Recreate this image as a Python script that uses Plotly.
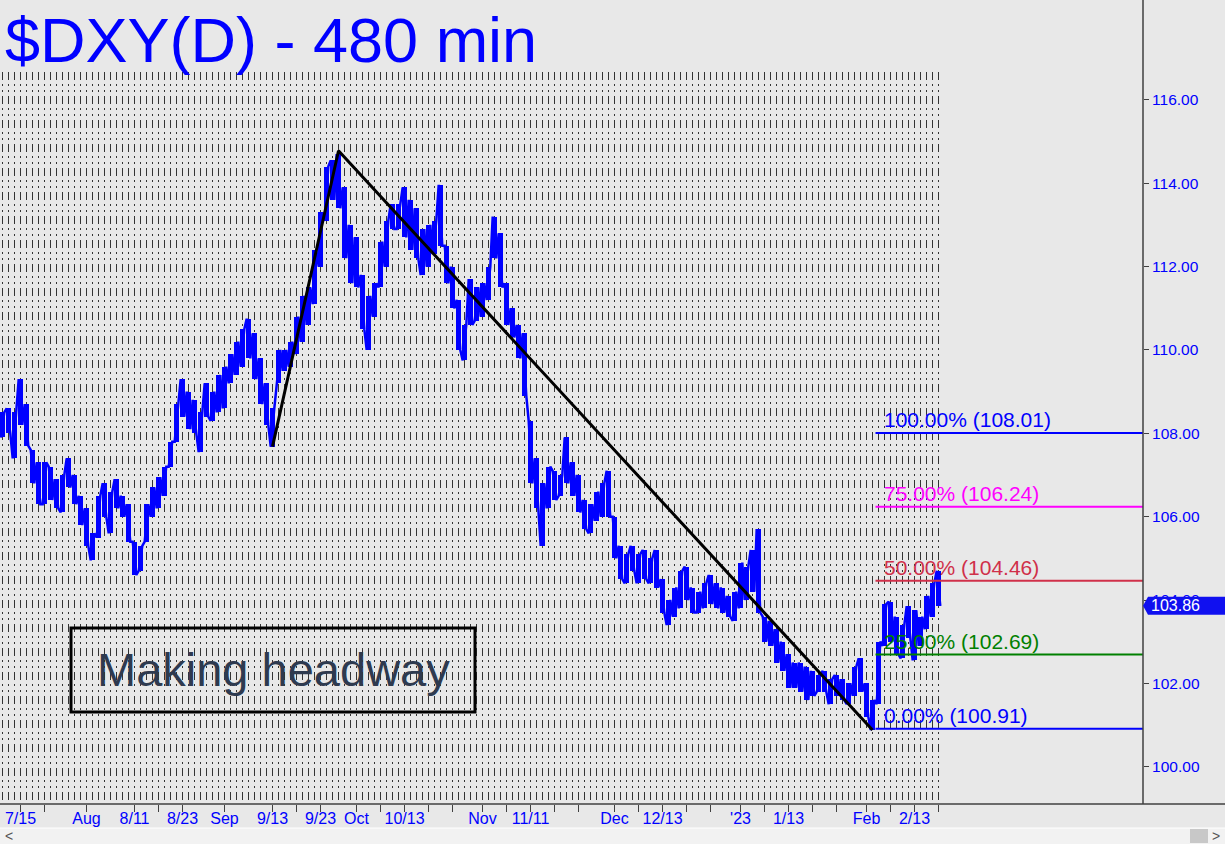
import plotly.graph_objects as go

# ---------------- data ----------------
# trading-day index (0 = 7/15/2022), holidays 12/26 and 1/2 skipped
day_index = list(range(-3, 154))
day_high = [108.5, 108.6, 108.5, 109.3, 108.7, 107.6, 107.3, 107.3, 107.2, 106.9,
            107.0, 107.4, 107.0, 106.5, 106.2, 105.6, 106.5, 106.8, 106.6, 106.9,
            106.5, 106.3, 105.4, 105.3, 106.3, 106.7, 106.95, 107.2, 107.8, 108.7,
            109.3, 109.0, 108.8, 108.5, 109.2, 109.0, 109.4, 109.6, 109.9, 110.2,
            110.5, 110.75, 110.4, 109.8, 109.2, 108.6, 110.0, 110.0, 110.2, 110.8,
            111.3, 111.5, 112.4, 113.3, 114.4, 114.55, 114.7, 113.9, 113.0, 112.7,
            111.8, 111.3, 111.6, 112.6, 113.1, 113.5, 113.5, 113.9, 113.6, 113.4,
            112.9, 113.0, 113.1, 113.96, 112.5, 112.0, 111.2, 110.6, 111.7, 111.5,
            111.6, 112.0, 113.2, 112.8, 111.6, 111.0, 110.6, 110.4, 108.3, 107.4,
            106.8, 107.2, 107.1, 107.0, 107.9, 107.3, 107.0, 106.4, 106.3, 106.6,
            106.8, 107.1, 106.0, 105.3, 105.1, 105.3, 105.1, 105.2, 105.0, 105.2,
            104.5, 104.0, 104.3, 104.7, 104.8, 104.3, 104.2, 104.4, 104.6, 104.4,
            104.3, 104.1, 104.2, 104.9, 104.8, 105.2, 105.7, 103.6, 103.5, 103.3,
            103.0, 102.7, 102.5, 102.5, 102.4, 102.3, 102.2, 102.3, 102.1, 102.2,
            102.1, 102.0, 102.4, 102.6, 102.0, 101.6, 103.0, 103.9, 103.96, 103.6,
            103.4, 103.85, 103.75, 103.6, 104.1, 104.4, 104.7]
day_low = [107.9, 108.0, 107.4, 108.2, 107.7, 106.8, 106.3, 106.3, 106.4, 106.2,
           106.1, 106.7, 106.3, 105.8, 105.3, 104.95, 105.5, 106.0, 105.6, 106.2,
           106.0, 105.4, 104.6, 104.7, 105.4, 106.0, 106.2, 106.5, 107.2, 107.8,
           108.4, 108.1, 108.0, 107.55, 108.4, 108.3, 108.5, 108.6, 109.2, 109.4,
           109.6, 109.8, 109.3, 108.7, 108.2, 107.68, 109.2, 109.5, 109.6, 109.9,
           110.2, 110.6, 111.1, 112.0, 113.1, 113.6, 113.4, 112.2, 111.6, 111.5,
           110.5, 110.0, 110.8, 111.5, 112.0, 112.9, 112.9, 112.7, 112.4, 112.2,
           111.8, 112.0, 112.3, 112.5, 111.6, 111.0, 110.0, 109.75, 110.6, 110.7,
           110.8, 111.2, 112.2, 111.5, 110.6, 110.3, 109.8, 108.9, 106.8, 106.2,
           105.3, 106.2, 106.4, 106.5, 106.8, 106.5, 106.1, 105.7, 105.6, 105.9,
           106.0, 106.0, 105.0, 104.5, 104.4, 104.7, 104.4, 104.5, 104.4, 104.3,
           103.7, 103.4, 103.6, 103.8, 104.0, 103.7, 103.7, 103.8, 103.9, 103.8,
           103.7, 103.6, 103.5, 103.8, 104.0, 104.2, 103.7, 103.0, 102.9, 102.5,
           102.3, 101.9, 101.9, 101.8, 101.6, 101.7, 101.8, 101.8, 101.5, 101.7,
           101.6, 101.5, 101.7, 101.8, 101.2, 100.88, 101.5, 102.9, 103.0, 102.7,
           102.6, 103.1, 102.55, 102.9, 103.3, 103.6, 103.86]
last_price = 103.86

# pivot line (9/13 low, 9/28 high, 2/2 low)
pivot_days = [42, 53, 142]
pivot_vals = [107.68, 114.78, 100.88]

# fib levels
fib_start_day = 142.5
fib_levels = [108.01, 106.24, 104.46, 102.69, 100.91]
fib_pcts = ["100.00%", "75.00%", "50.00%", "25.00%", "0.00%"]
fib_colors = ["#0000FF", "#FF00FF", "#D0304A", "#008000", "#0000FF"]

# axis ticks
x_tick_days = [0, 11, 19, 27, 34, 42, 50, 56, 64, 77, 85, 99, 107, 120, 128, 141, 149]
x_tick_text = ["7/15", "Aug", "8/11", "8/23", "Sep", "9/13", "9/23", "Oct", "10/13",
               "Nov", "11/11", "Dec", "12/13", "'23", "1/13", "Feb", "2/13"]
x_minor_days = [4, 23, 46, 60, 68, 72, 81, 89, 93, 103, 111, 115, 124, 132, 136, 145, 153]
y_ticks = [100, 102, 104, 106, 108, 110, 112, 114, 116]

title_text = "$DXY(D) - 480 min"
note_text = "Making headway"

# ---------------- layout geometry ----------------
FIG_W, FIG_H = 1225, 844
M_L, M_R, M_T, M_B = 0, 82, 72, 40
PW = FIG_W - M_L - M_R
PH = FIG_H - M_T - M_B
X_RANGE = [-20.5 / 6, (PW - 20.5) / 6]
Y_RANGE = [99.105, 116.67]
BG = "#E8E8E8"
FONT = "Liberation Sans, Arial, sans-serif"


def pxx(px):
    return (px - M_L) / PW


def pxy(py):
    return (M_T + PH - py) / PH


def val_to_paper(v):
    return (v - Y_RANGE[0]) / (Y_RANGE[1] - Y_RANGE[0])


# ---------------- price zigzag ----------------
xs, ys = [], []
n = len(day_index)
for i in range(n):
    d = day_index[i]
    mid = (day_high[i] + day_low[i]) / 2
    if i + 1 < n:
        up = (day_high[i + 1] + day_low[i + 1]) / 2 > mid
    else:
        up = False
    xs += [d - 0.3, d + 0.3]
    ys += [day_low[i], day_high[i]] if up else [day_high[i], day_low[i]]

fig = go.Figure()

# vertical dashed grid (one per trading day)
shapes = []
for d in day_index:
    shapes.append(dict(type="line", xref="x", yref="paper", x0=d, x1=d, y0=1, y1=0,
                       line=dict(color="#333333", width=1, dash="8px,4px,2px,4px,2px,4px"),
                       layer="below"))

# high-low range per day
fig.add_trace(go.Bar(x=day_index, y=[h - l for h, l in zip(day_high, day_low)],
                     base=day_low, width=0.8, marker=dict(color="#0000FF", line=dict(width=0)),
                     hoverinfo="skip", showlegend=False))
fig.add_trace(go.Scatter(x=xs, y=ys, mode="lines",
                         line=dict(color="#0000FF", width=2.5), hoverinfo="skip",
                         showlegend=False))

fig.add_trace(go.Scatter(x=pivot_days, y=pivot_vals, mode="lines",
                         line=dict(color="#000000", width=3), hoverinfo="skip",
                         showlegend=False))

annotations = []
for lvl, pct, col in zip(fib_levels, fib_pcts, fib_colors):
    fig.add_trace(go.Scatter(x=[fib_start_day, X_RANGE[1]], y=[lvl, lvl], mode="lines",
                             line=dict(color=col, width=2), hoverinfo="skip",
                             showlegend=False))
    annotations.append(dict(x=fib_start_day + 1.3, y=lvl, xref="x", yref="y",
                            text=f"{pct} ({lvl:.2f})", showarrow=False,
                            xanchor="left", yanchor="bottom", yshift=1, borderpad=0,
                            font=dict(family=FONT, size=21, color=col)))

# title
annotations.append(dict(x=pxx(3), y=pxy(40), xref="paper", yref="paper", text=title_text,
                        showarrow=False, xanchor="left", yanchor="middle",
                        font=dict(family=FONT, size=63, color="#0000FF")))

# note box
shapes.append(dict(type="rect", xref="paper", yref="paper", x0=pxx(71), x1=pxx(475),
                   y0=pxy(712), y1=pxy(628), line=dict(color="#000000", width=3),
                   fillcolor="rgba(0,0,0,0)", layer="above"))
annotations.append(dict(x=pxx(273), y=pxy(669), xref="paper", yref="paper", text=note_text,
                        showarrow=False, xanchor="center", yanchor="middle",
                        font=dict(family=FONT, size=47, color="#2E3A4F")))

# axis lines
shapes.append(dict(type="line", xref="paper", yref="paper", x0=1, x1=1, y0=0,
                   y1=pxy(0), line=dict(color="#404040", width=1.5), layer="above"))
shapes.append(dict(type="line", xref="paper", yref="paper", x0=0, x1=pxx(FIG_W), y0=0,
                   y1=0, line=dict(color="#404040", width=1.5), layer="above"))

# scrollbar
shapes.append(dict(type="rect", xref="paper", yref="paper", x0=0, x1=pxx(FIG_W),
                   y0=pxy(FIG_H + 2), y1=pxy(828), line=dict(width=0), fillcolor="#F2F2F2",
                   layer="below"))
shapes.append(dict(type="line", xref="paper", yref="paper", x0=0, x1=pxx(FIG_W),
                   y0=pxy(828), y1=pxy(828), line=dict(color="#FFFFFF", width=1),
                   layer="below"))
shapes.append(dict(type="rect", xref="paper", yref="paper", x0=pxx(1190), x1=pxx(1208),
                   y0=pxy(843), y1=pxy(829), line=dict(width=0), fillcolor="#C8C8C8",
                   layer="below"))
annotations.append(dict(x=pxx(9), y=pxy(836), xref="paper", yref="paper", text="<",
                        showarrow=False, xanchor="center", yanchor="middle",
                        font=dict(family=FONT, size=14, color="#555555")))
annotations.append(dict(x=pxx(1216), y=pxy(836), xref="paper", yref="paper", text=">",
                        showarrow=False, xanchor="center", yanchor="middle",
                        font=dict(family=FONT, size=14, color="#555555")))

# last price tag
yc = val_to_paper(last_price)
hh = 9 / PH
path = (f"M 1,{yc} L {pxx(M_L + PW + 5)},{yc + hh} L {pxx(FIG_W)},{yc + hh} "
        f"L {pxx(FIG_W)},{yc - hh} L {pxx(M_L + PW + 5)},{yc - hh} Z")
shapes.append(dict(type="path", xref="paper", yref="paper", path=path,
                   fillcolor="#1010F0", line=dict(width=0), layer="above"))
annotations.append(dict(x=pxx(1149), y=last_price, xref="paper", yref="y",
                        text=f"{last_price:.2f}", showarrow=False, xanchor="left",
                        yanchor="middle",
                        font=dict(family=FONT, size=16, color="#FFFFFF")))

fig.update_layout(
    width=FIG_W, height=FIG_H,
    margin=dict(l=M_L, r=M_R, t=M_T, b=M_B, pad=0),
    paper_bgcolor=BG, plot_bgcolor=BG,
    showlegend=False, bargap=0,
    shapes=shapes, annotations=annotations,
    xaxis=dict(range=X_RANGE, showgrid=False, zeroline=False, showline=False,
               tickmode="array", tickvals=x_tick_days, ticktext=x_tick_text,
               ticks="outside", ticklen=7, tickcolor="#404040", tickwidth=1,
               ticklabelstandoff=-7,
               tickfont=dict(family=FONT, size=16, color="#0000FF"),
               minor=dict(tickmode="array", tickvals=x_minor_days, ticks="outside",
                          ticklen=7, tickcolor="#404040", showgrid=False),
               fixedrange=True),
    yaxis=dict(range=Y_RANGE, side="right", showgrid=False, zeroline=False,
               showline=False, tickmode="array", tickvals=y_ticks,
               ticktext=[f"{v:.2f}" for v in y_ticks], ticks="outside", ticklen=5,
               tickcolor="#404040", tickfont=dict(family=FONT, size=15.5, color="#0000FF"),
               fixedrange=True),
)

fig.write_html("out.html", config={"displayModeBar": False},
               post_script="document.body.style.margin='0';document.body.style.overflow='hidden';")
